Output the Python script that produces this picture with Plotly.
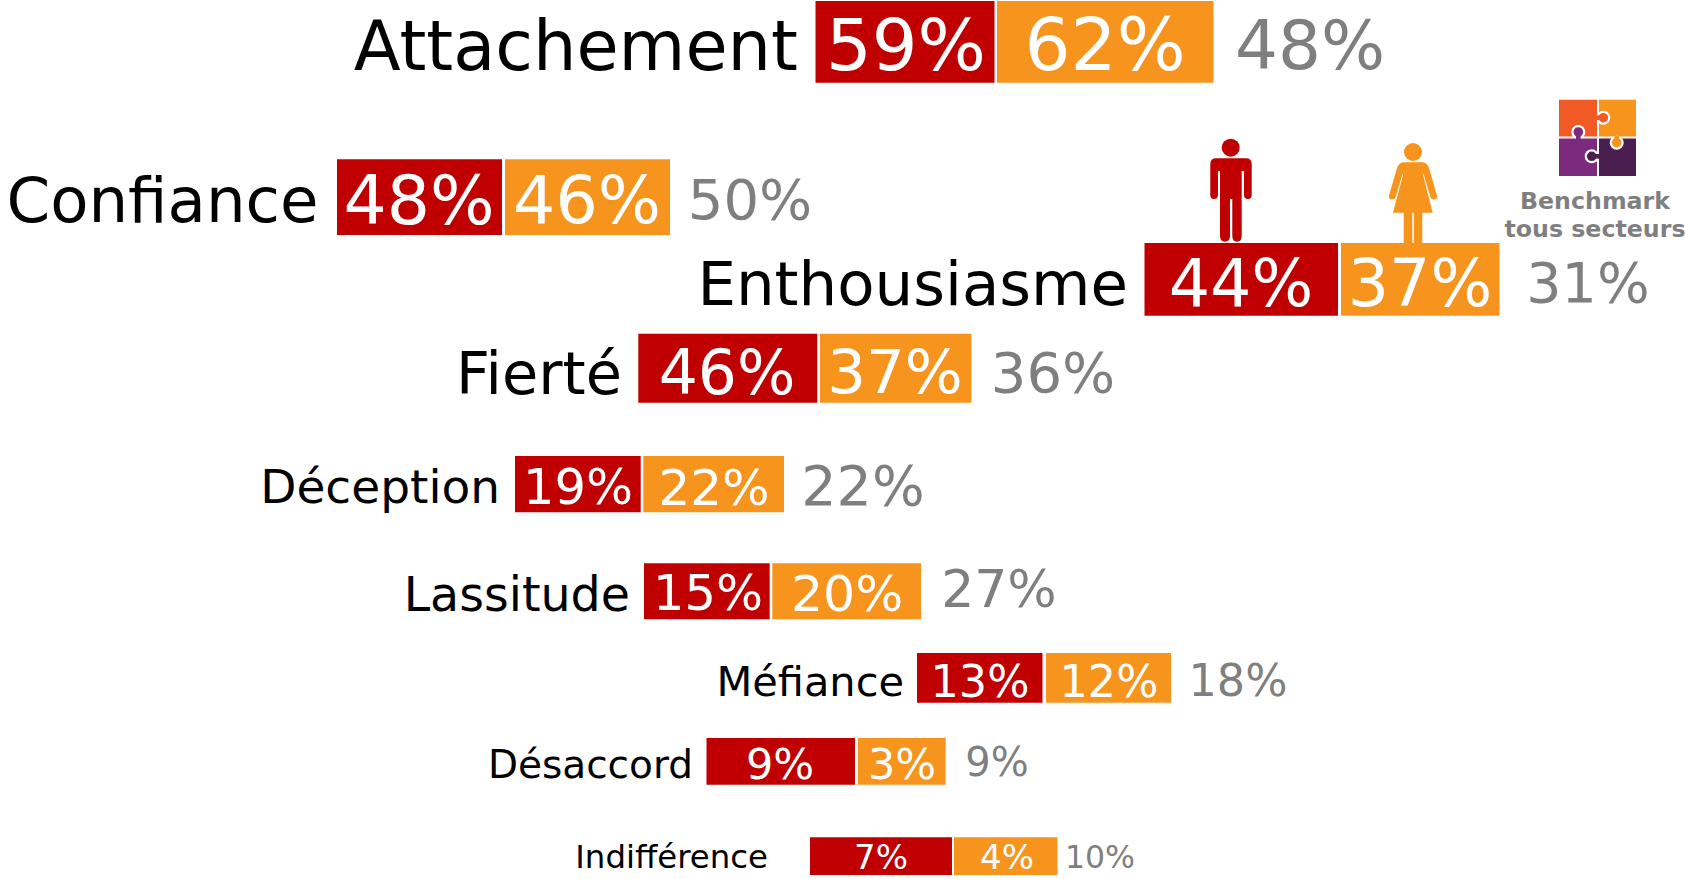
import plotly.graph_objects as go

# ---- chart values ----
categories = ["Attachement", "Confiance", "Enthousiasme", "Fierté", "Déception",
              "Lassitude", "Méfiance", "Désaccord", "Indifférence"]
hommes = [59, 48, 44, 46, 19, 15, 13, 9, 7]
femmes = [62, 46, 37, 37, 22, 20, 12, 3, 4]
benchmark = [48, 50, 31, 36, 22, 27, 18, 9, 10]
benchmark_title = ["Benchmark", "tous secteurs"]

# ---- word-cloud geometry of each row (reference pixels) ----
red_left = [815.5, 337, 1144.5, 638.3, 515, 644, 917, 706.5, 810]
red_right = [994.5, 502, 1338, 817.3, 640.7, 769.7, 1042.5, 855, 952]
org_left = [997, 505, 1341, 820, 643.3, 772.3, 1046, 858, 954]
org_right = [1213.5, 670, 1499.5, 971.5, 784, 921, 1171, 945.7, 1057.5]
row_top = [1, 159.3, 243, 333.7, 456, 563.3, 653, 738, 837.3]
row_bottom = [82.7, 235, 315.7, 402.7, 512.3, 619.3, 702.7, 784.7, 875]

label_right = [798, 318.5, 1128, 622, 500, 630, 904, 693, 768]
label_y = [46, 200, 284, 373, 487, 594, 681, 764, 857]
label_size = [68.6, 62.6, 61, 59, 47, 47.5, 41.5, 39, 32.4]

red_x = [906, 419, 1241, 727, 578, 708, 980, 780, 881]
org_x = [1105, 587, 1420, 895, 714, 847, 1109, 902, 1007]
grey_x = [1310, 750, 1588, 1053, 863, 999, 1238, 997, 1100]
val_y = [45, 200, 283, 372, 487, 593, 681, 764, 857]
grey_y = [45, 199, 283, 372, 486, 589, 680, 762, 857]
red_size = [72, 68, 65, 61.5, 49.5, 49.5, 44.5, 43, 34]
org_size = [72.5, 66.5, 65, 61, 50, 50.5, 44.5, 43, 34]
grey_size = [67.5, 56, 55.5, 56, 55.5, 52, 44.5, 40, 31.5]

RED, ORANGE, GREY = "#C00000", "#F7941E", "#7F7F7F"
FONT = "DejaVu Sans"
MID = 0.10   # baseline correction for text centres

fig = go.Figure()

for left, right, col in ((red_left, red_right, RED), (org_left, org_right, ORANGE)):
    fig.add_trace(go.Bar(
        orientation="h",
        base=left,
        x=[r - l for l, r in zip(left, right)],
        y=[(t + b) / 2 for t, b in zip(row_top, row_bottom)],
        width=[b - t for t, b in zip(row_top, row_bottom)],
        marker=dict(color=col, line=dict(width=0)),
        hoverinfo="skip",
    ))


def text_trace(xs, ys, texts, sizes, color, pos="middle center"):
    fig.add_trace(go.Scatter(
        x=xs,
        y=[y + MID * s for y, s in zip(ys, sizes)],
        mode="text",
        text=texts,
        textposition=pos,
        textfont=dict(family=FONT, size=sizes, color=color),
        cliponaxis=False,
        hoverinfo="skip",
    ))


text_trace(label_right, label_y, categories, label_size, "#000000", "middle left")
text_trace(red_x, val_y, [f"{v}%" for v in hommes], red_size, "#FFFFFF")
text_trace(org_x, val_y, [f"{v}%" for v in femmes], org_size, "#FFFFFF")
text_trace(grey_x, grey_y, [f"{v}%" for v in benchmark], grey_size, GREY)
text_trace([1595, 1595], [200.5, 229], [f"<b>{t}</b>" for t in benchmark_title], [23.7, 23.7], GREY)

# ---- pictograms ----
shapes = []


def circle(cx, cy, r, col):
    shapes.append(dict(type="circle", x0=cx - r, x1=cx + r, y0=cy - r, y1=cy + r,
                       fillcolor=col, line=dict(width=0)))


def rect(x0, y0, x1, y1, col):
    shapes.append(dict(type="rect", x0=x0, x1=x1, y0=y0, y1=y1, fillcolor=col, line=dict(width=0)))


def path(d, col):
    shapes.append(dict(type="path", path=d, fillcolor=col, line=dict(width=0)))


# man
circle(1230.7, 147.7, 9, RED)
path("M1216,158.3 L1246,158.3 Q1251.7,158.3 1251.7,164 L1251.7,195 Q1251.7,199 1248,199 "
     "Q1244,199 1244,195 L1244,171 L1241.7,171 L1241.7,236 Q1241.7,241.7 1237,241.7 "
     "Q1232.3,241.7 1232.3,236 L1232.3,199 L1230,199 L1230,236 Q1230,241.7 1225,241.7 "
     "Q1220,241.7 1220,236 L1220,171 L1218,171 L1218,195 Q1218,199 1214,199 "
     "Q1210.3,199 1210.3,195 L1210.3,164 Q1210.3,158.3 1216,158.3 Z", RED)

# woman
circle(1413, 152, 9, ORANGE)
path("M1404,162.3 L1422,162.3 Q1427,162.3 1429,168 L1436.8,195 Q1438,199.5 1434,199.5 "
     "Q1431,199.5 1430.4,197 L1423.5,174 L1422.8,174 L1432.7,212.7 L1422.3,212.7 L1422.3,244 "
     "L1414,244 L1414,212.7 L1412.3,212.7 L1412.3,244 L1403.7,244 L1403.7,212.7 L1393,212.7 "
     "L1403.2,174 L1402.5,174 L1395.6,197 Q1395,199.5 1392,199.5 Q1388,199.5 1389.2,195 "
     "L1397,168 Q1399,162.3 1404,162.3 Z", ORANGE)

# puzzle
P1, P2, P3, P4 = "#F15A24", "#F7941E", "#7B2A7E", "#4B1E50"
rect(1559, 99.7, 1597, 136.5, P1)
rect(1599, 99.7, 1636, 136.5, P2)
rect(1559, 138.5, 1597, 176, P3)
rect(1599, 138.5, 1636, 176, P4)
for cx, cy, col, nx0, ny0, nx1, ny1 in (
    (1603.3, 117.7, P1, 1596, 115.5, 1602, 120),
    (1578.3, 132, P3, 1576, 134, 1580.6, 139),
    (1616.7, 142.7, P2, 1614.4, 136, 1619, 141),
    (1591.7, 156.3, P4, 1593, 154, 1600, 158.6),
):
    circle(cx, cy, 7, "#FFFFFF")
    circle(cx, cy, 4.8, col)
    rect(nx0, ny0, nx1, ny1, col)

fig.update_layout(
    width=1685, height=879,
    margin=dict(l=0, r=0, t=0, b=0),
    paper_bgcolor="#FFFFFF", plot_bgcolor="#FFFFFF",
    showlegend=False, barmode="overlay",
    xaxis=dict(range=[0, 1685], visible=False, fixedrange=True),
    yaxis=dict(range=[879, 0], visible=False, fixedrange=True),
    shapes=shapes,
)
fig.write_html("out.html", config={"displayModeBar": False},
               post_script="document.body.style.margin='0';document.body.style.overflow='hidden';")
